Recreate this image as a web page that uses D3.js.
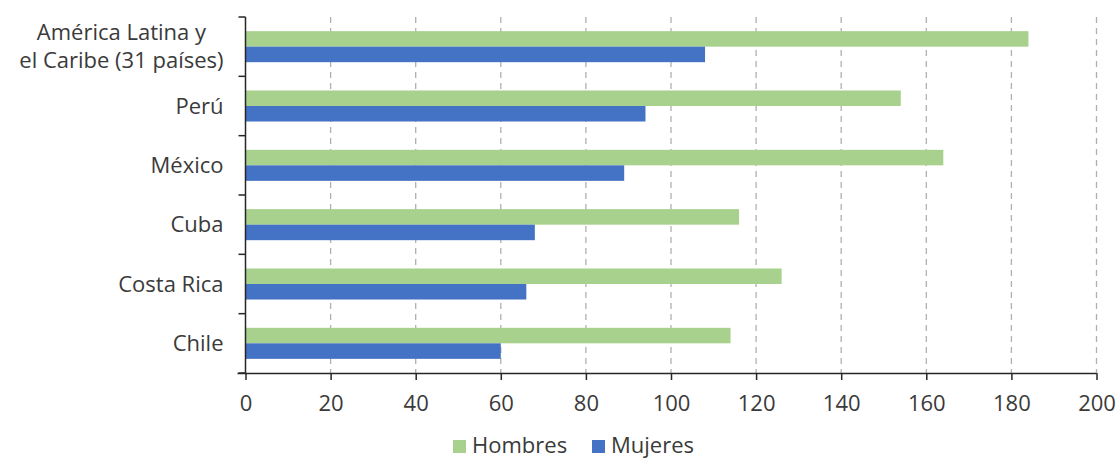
<!DOCTYPE html>
<html>
<head>
<meta charset="utf-8">
<script src="https://cdn.jsdelivr.net/npm/d3@7"></script>
<style>
  html, body { margin: 0; padding: 0; background: #fff; }
  svg { display: block; font-family: "Open Sans", "Noto Sans", sans-serif; font-weight: 400; }
</style>
</head>
<body>
<svg id="chart" width="1116" height="459"></svg>
<script>
// Categories, top to bottom
const categories = ["América Latina y\nel Caribe (31 países)", "Perú", "México", "Cuba", "Costa Rica", "Chile"];
const hombres = [184, 154, 164, 116, 126, 114];
const mujeres = [108, 94, 89, 68, 66, 60];
const xTicks = [0, 20, 40, 60, 80, 100, 120, 140, 160, 180, 200];
const seriesNames = ["Hombres", "Mujeres"];
const seriesColors = ["#A9D18E", "#4472C4"];

const svg = d3.select("#chart");
const margin = { left: 245.5, right: 19.5, top: 17, bottom: 86 };
const W = 1116, H = 459;
const textColor = "#3a3a3a";
const axisColor = "#262626";
const fontSize = 22;

const x = d3.scaleLinear().domain([0, 200]).range([margin.left, W - margin.right]);
const y = d3.scaleBand().domain(categories).range([margin.top, H - margin.bottom])
  .paddingInner(0.477).paddingOuter(0.2385);
const sub = d3.scaleBand().domain(seriesNames).range([0, y.bandwidth()]);

// Dashed vertical gridlines
svg.append("g").selectAll("line").data(xTicks.filter(d => d > 0)).join("line")
  .attr("x1", d => x(d)).attr("x2", d => x(d))
  .attr("y1", margin.top).attr("y2", H - margin.bottom)
  .attr("stroke", "#b0b0b0").attr("stroke-width", 1.3)
  .attr("stroke-dasharray", "6,5");

// Bars
const rows = categories.map((c, i) => ({ c, vals: [hombres[i], mujeres[i]] }));
const g = svg.append("g").selectAll("g").data(rows).join("g")
  .attr("transform", d => `translate(0,${y(d.c)})`);
g.selectAll("rect").data(d => d.vals.map((v, j) => ({ v, s: seriesNames[j], col: seriesColors[j] })))
  .join("rect")
  .attr("x", x(0))
  .attr("y", d => sub(d.s))
  .attr("width", d => x(d.v) - x(0))
  .attr("height", sub.bandwidth())
  .attr("fill", d => d.col);

// X axis
const xAxis = svg.append("g")
  .attr("transform", `translate(0,${H - margin.bottom})`)
  .call(d3.axisBottom(x).tickValues(xTicks).tickSize(7).tickPadding(15).tickSizeOuter(0));
xAxis.select(".domain").attr("stroke", axisColor).attr("stroke-width", 1.5)
  .attr("d", `M${x(0) - 8},0.5H${x(200)}`);
xAxis.selectAll(".tick line").attr("stroke", axisColor).attr("stroke-width", 1.5);
xAxis.selectAll(".tick text").attr("fill", textColor).attr("font-size", fontSize)
  .attr("font-family", "'Open Sans', sans-serif").attr("font-weight", 400);

// Y axis line with ticks at category boundaries
const yAxis = svg.append("g");
yAxis.append("line").attr("x1", x(0)).attr("x2", x(0))
  .attr("y1", margin.top).attr("y2", H - margin.bottom)
  .attr("stroke", axisColor).attr("stroke-width", 1.5);
const step = y.step();
const boundaries = d3.range(categories.length + 1).map(i => margin.top + i * step);
yAxis.selectAll("line.tk").data(boundaries).join("line").attr("class", "tk")
  .attr("x1", x(0) - 7).attr("x2", x(0))
  .attr("y1", d => d).attr("y2", d => d)
  .attr("stroke", axisColor).attr("stroke-width", 1.5);

// Category labels: block right-aligned to the axis, lines centred within the block
const lab = svg.append("g").selectAll("text").data(categories).join("text")
  .attr("text-anchor", "middle")
  .attr("fill", textColor).attr("font-size", fontSize)
  .attr("transform", d => `translate(${x(0) - 22},${y(d) + y.bandwidth() / 2})`);
lab.each(function (d) {
  const lines = d.split("\n");
  const t = d3.select(this);
  const spans = lines.map((ln, i) => t.append("tspan")
    .attr("y", (i - (lines.length - 1) / 2) * 28)
    .attr("dy", "0.35em").text(ln));
  const maxW = d3.max(spans, s => s.node().getComputedTextLength());
  spans.forEach(s => s.attr("x", -maxW / 2));
});

// Legend
const legend = svg.append("g").attr("transform", `translate(453,453)`);
const legX = [0, 139];
seriesNames.forEach((s, i) => {
  legend.append("rect").attr("x", legX[i]).attr("y", -13).attr("width", 13).attr("height", 13)
    .attr("fill", seriesColors[i]);
  legend.append("text").attr("x", legX[i] + 19).attr("y", 0)
    .attr("fill", textColor).attr("font-size", fontSize).text(s);
});
</script>
</body>
</html>
